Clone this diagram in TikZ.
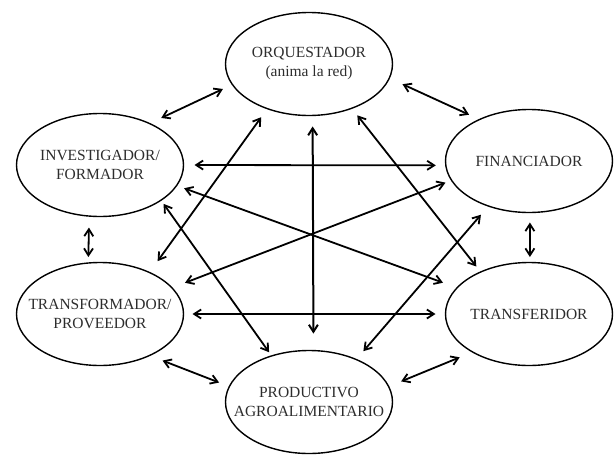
\documentclass[tikz,border=0pt]{standalone}
\usepackage{fontspec}
\setmainfont{Liberation Serif}
\usetikzlibrary{arrows.meta,shapes.geometric}
\definecolor{txtc}{RGB}{45,45,45}
\begin{document}
\begin{tikzpicture}[x=1pt,y=-1pt,
  ell/.style={draw, ellipse, line width=1.4pt, minimum width=167pt, minimum height=103pt, inner sep=0pt, outer sep=0pt},
  lbl/.style={align=center, font=\fontsize{15.5}{19}\selectfont, text=txtc, inner sep=0pt},
  arr/.style={{Straight Barb[length=7pt,width=9pt]}-{Straight Barb[length=7pt,width=9pt]}, line width=1.8pt}]
\useasboundingbox (0,0) rectangle (615,455);
\node[ell] (orq) at (309,64) {};
\node[ell] (inv) at (100,165) {};
\node[ell] (fin) at (529,161) {};
\node[ell] (tfo) at (100,314) {};
\node[ell] (tfr) at (529,314) {};
\node[ell] (pro) at (309,402) {};
\node[lbl] (orqt) at (orq) {ORQUESTADOR\\(anima la red)};
\node[lbl] (invt) at (inv) {INVESTIGADOR/\\FORMADOR};
\node[lbl] (fint) at (fin) {FINANCIADOR};
\node[lbl] (tfot) at (tfo) {TRANSFORMADOR/\\PROVEEDOR};
\node[lbl] (tfrt) at (tfr) {TRANSFERIDOR};
\node[lbl] (prot) at (pro) {PRODUCTIVO\\AGROALIMENTARIO};
\draw[arr, shorten <=10.5pt, shorten >=13pt] (orq.195) -- (inv.40);
\draw[arr, shorten <=14.5pt, shorten >=11.5pt] (orq.350) -- (fin.140);
\draw[arr, shorten <=10.5pt, shorten >=14pt] (orq.227) -- (tfo.40);
\draw[arr, line width=2pt, shorten <=11pt, shorten >=17pt] (orq.274.4) -- (pro.85.6);
\draw[arr, shorten <=9pt, shorten >=7pt] (orq.314) -- (tfr.139);
\draw[arr, shorten <=11pt, shorten >=10pt] (inv.0) -- (fin.183);
\draw[arr, shorten <=8pt, shorten >=15pt] (inv.345) -- (tfr.160);
\draw[arr, shorten <=4.5pt, shorten >=4.5pt] (inv.330) -- (pro.129);
\draw[arr, shorten <=11.5pt, shorten >=6pt] (inv.258) -- (tfo.103);
\draw[arr, shorten <=6.5pt, shorten >=14pt] (fin.194) -- (tfo.20);
\draw[arr, shorten <=11.5pt, shorten >=11pt] (fin.228) -- (pro.42);
\draw[arr, shorten <=10pt, shorten >=5.5pt] (fin.271) -- (tfr.89);
\draw[arr, shorten <=9pt, shorten >=10pt] (tfo.0) -- (tfr.180);
\draw[arr, shorten <=14pt, shorten >=11pt] (tfo.320) -- (pro.169);
\draw[arr, shorten <=14pt, shorten >=13.5pt] (tfr.214) -- (pro.11);
\end{tikzpicture}
\end{document}
